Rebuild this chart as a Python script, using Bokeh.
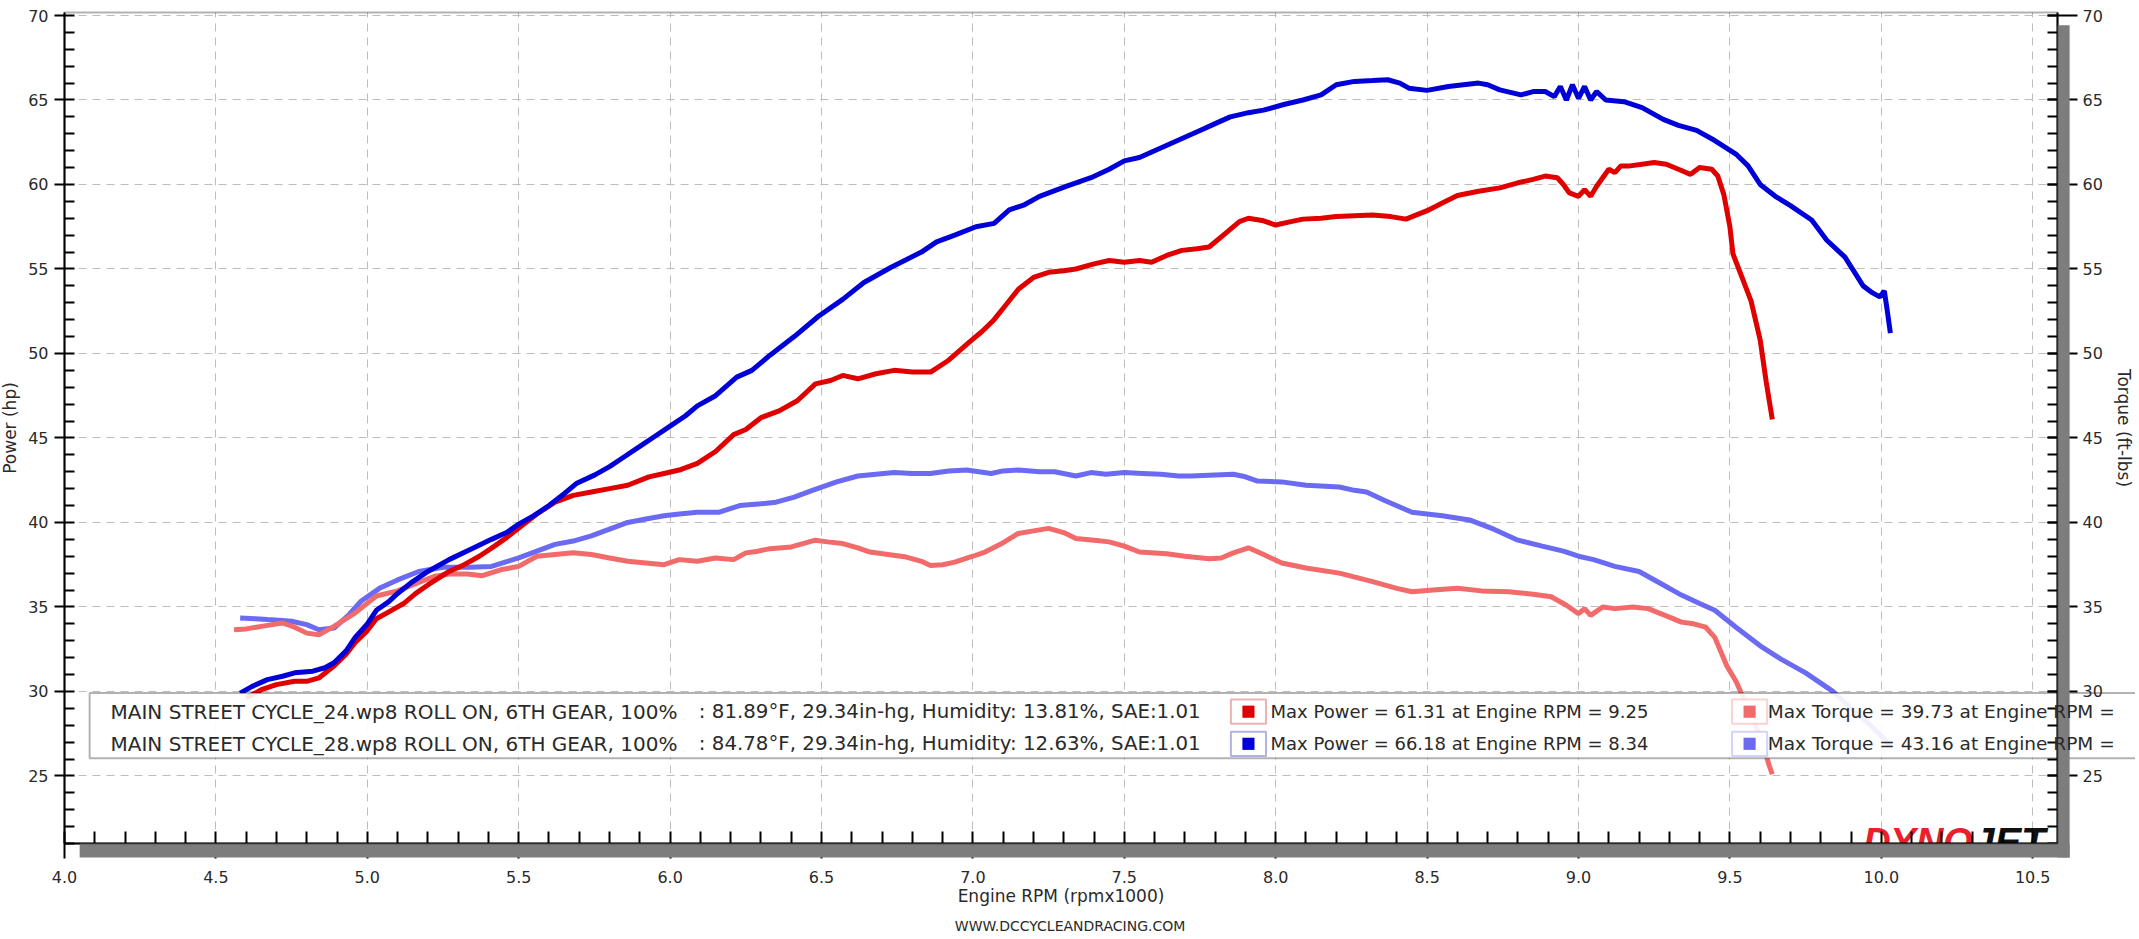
from bokeh.plotting import figure
from bokeh.models import (LinearAxis, SingleIntervalTicker, PrintfTickFormatter, Grid,
                          BoxAnnotation, Label, Range1d)
from bokeh.embed import file_html
from bokeh.resources import INLINE

# ---------------- data (read from the dyno sheet) ----------------
rpm_pw24 = [4.60, 4.65, 4.70, 4.76, 4.80, 4.84, 4.89, 4.93, 4.96, 5.00, 5.03, 5.08, 5.12, 5.16, 5.20,
            5.27, 5.32, 5.37, 5.42, 5.46, 5.51, 5.56, 5.62, 5.68, 5.74, 5.80, 5.86, 5.93, 5.98, 6.03,
            6.09, 6.15, 6.21, 6.25, 6.30, 6.36, 6.42, 6.48, 6.53, 6.57, 6.62, 6.68, 6.74, 6.80, 6.86,
            6.92, 6.99, 7.03, 7.07, 7.11, 7.15, 7.20, 7.25, 7.30, 7.34, 7.40, 7.45, 7.50, 7.55, 7.59,
            7.64, 7.69, 7.74, 7.78, 7.84, 7.88, 7.91, 7.96, 8.00, 8.05, 8.09, 8.15, 8.20, 8.26, 8.32,
            8.38, 8.43, 8.50, 8.55, 8.60, 8.67, 8.74, 8.80, 8.85, 8.89, 8.93, 8.95, 8.97, 9.00, 9.02,
            9.04, 9.06, 9.08, 9.10, 9.12, 9.14, 9.17, 9.21, 9.25, 9.29, 9.33, 9.37, 9.40, 9.44, 9.46,
            9.48, 9.50, 9.51, 9.54, 9.57, 9.60, 9.62, 9.64]
hp_24 = [29.6, 30.1, 30.4, 30.6, 30.6, 30.8, 31.5, 32.2, 32.9, 33.6, 34.3, 34.8, 35.2, 35.8, 36.3,
         37.1, 37.5, 38.0, 38.6, 39.1, 39.8, 40.5, 41.2, 41.6, 41.8, 42.0, 42.2, 42.7, 42.9, 43.1,
         43.5, 44.2, 45.2, 45.5, 46.2, 46.6, 47.2, 48.2, 48.4, 48.7, 48.5, 48.8, 49.0, 48.9, 48.9,
         49.6, 50.7, 51.3, 52.0, 52.9, 53.8, 54.5, 54.8, 54.9, 55.0, 55.3, 55.5, 55.4, 55.5, 55.4,
         55.8, 56.1, 56.2, 56.3, 57.2, 57.8, 58.0, 57.85, 57.6, 57.8, 57.95, 58.0, 58.1, 58.15, 58.2,
         58.1, 57.95, 58.45, 58.9, 59.35, 59.6, 59.8, 60.1, 60.3, 60.5, 60.4, 60.0, 59.5, 59.3, 59.7,
         59.3, 59.9, 60.4, 60.9, 60.7, 61.1, 61.1, 61.2, 61.3, 61.2, 60.9, 60.6, 61.0, 60.9, 60.5,
         59.4, 57.5, 55.9, 54.5, 53.1, 50.8, 48.3, 46.1]

rpm_pw28 = [4.58, 4.62, 4.67, 4.72, 4.76, 4.82, 4.86, 4.89, 4.93, 4.96, 5.00, 5.03, 5.07, 5.10, 5.15,
            5.20, 5.27, 5.34, 5.41, 5.46, 5.50, 5.55, 5.60, 5.65, 5.69, 5.75, 5.80, 5.85, 5.90, 5.95,
            6.00, 6.05, 6.09, 6.15, 6.22, 6.27, 6.33, 6.41, 6.49, 6.57, 6.64, 6.73, 6.83, 6.88, 6.94,
            7.01, 7.07, 7.12, 7.17, 7.22, 7.31, 7.39, 7.45, 7.50, 7.55, 7.60, 7.65, 7.70, 7.75, 7.80,
            7.85, 7.91, 7.96, 8.03, 8.09, 8.15, 8.20, 8.26, 8.32, 8.37, 8.41, 8.44, 8.50, 8.57, 8.62,
            8.67, 8.70, 8.74, 8.81, 8.85, 8.89, 8.92, 8.94, 8.96, 8.98, 9.00, 9.02, 9.04, 9.06, 9.09,
            9.15, 9.21, 9.28, 9.33, 9.39, 9.45, 9.52, 9.56, 9.60, 9.65, 9.70, 9.77, 9.82, 9.88, 9.94,
            9.97, 9.995, 10.01, 10.02, 10.03]
hp_28 = [29.9, 30.3, 30.7, 30.9, 31.1, 31.2, 31.4, 31.7, 32.4, 33.2, 34.0, 34.8, 35.3, 35.8, 36.5,
         37.1, 37.8, 38.4, 39.0, 39.4, 39.9, 40.4, 41.0, 41.7, 42.3, 42.8, 43.3, 43.9, 44.5, 45.1,
         45.7, 46.3, 46.9, 47.5, 48.6, 49.0, 49.9, 51.0, 52.2, 53.2, 54.2, 55.1, 56.0, 56.6, 57.0,
         57.5, 57.7, 58.5, 58.8, 59.3, 59.9, 60.4, 60.9, 61.4, 61.6, 62.0, 62.4, 62.8, 63.2, 63.6,
         64.0, 64.25, 64.4, 64.75, 65.0, 65.3, 65.9, 66.1, 66.15, 66.2, 66.0, 65.7, 65.57, 65.8, 65.9,
         66.0, 65.9, 65.6, 65.3, 65.5, 65.5, 65.2, 65.8, 65.0, 65.9, 65.1, 65.8, 65.0, 65.5, 65.0,
         64.9, 64.55, 63.85, 63.5, 63.2, 62.6, 61.8, 61.1, 60.0, 59.3, 58.75, 57.9, 56.7, 55.7, 54.0,
         53.6, 53.35, 53.7, 52.5, 51.2]

rpm_tq24 = [4.56, 4.60, 4.65, 4.72, 4.76, 4.80, 4.84, 4.89, 4.96, 5.03, 5.10, 5.17, 5.22, 5.27, 5.33,
            5.38, 5.44, 5.50, 5.56, 5.62, 5.68, 5.74, 5.80, 5.86, 5.92, 5.98, 6.03, 6.09, 6.15, 6.21,
            6.25, 6.29, 6.33, 6.40, 6.48, 6.52, 6.57, 6.62, 6.66, 6.72, 6.78, 6.83, 6.86, 6.90, 6.94,
            7.00, 7.04, 7.10, 7.15, 7.20, 7.25, 7.30, 7.34, 7.40, 7.45, 7.50, 7.55, 7.64, 7.70, 7.78,
            7.82, 7.86, 7.91, 7.96, 8.02, 8.10, 8.21, 8.32, 8.40, 8.45, 8.52, 8.60, 8.68, 8.77, 8.85,
            8.91, 8.96, 9.00, 9.02, 9.04, 9.08, 9.12, 9.18, 9.23, 9.30, 9.34, 9.38, 9.42, 9.45, 9.49,
            9.52, 9.54, 9.58, 9.61, 9.63, 9.64]
tq_24 = [33.65, 33.7, 33.85, 34.05, 33.8, 33.45, 33.35, 33.85, 34.65, 35.65, 35.95, 36.45, 36.8, 36.95, 36.95,
         36.85, 37.2, 37.4, 38.0, 38.1, 38.2, 38.1, 37.9, 37.7, 37.6, 37.5, 37.8, 37.7, 37.9, 37.8,
         38.2, 38.3, 38.45, 38.55, 38.95, 38.85, 38.75, 38.5, 38.25, 38.1, 37.95, 37.7, 37.45, 37.5, 37.65,
         38.0, 38.25, 38.8, 39.35, 39.5, 39.65, 39.4, 39.05, 38.95, 38.85, 38.6, 38.25, 38.15, 38.0, 37.85,
         37.9, 38.2, 38.5, 38.1, 37.6, 37.3, 37.0, 36.5, 36.1, 35.9, 36.0, 36.1, 35.95, 35.9, 35.75,
         35.6, 35.1, 34.6, 34.9, 34.5, 35.0, 34.9, 35.0, 34.9, 34.4, 34.1, 34.0, 33.8, 33.2, 31.5,
         30.6, 29.8, 28.2, 26.8, 25.6, 25.1]

rpm_tq28 = [4.58, 4.63, 4.67, 4.72, 4.75, 4.80, 4.84, 4.89, 4.94, 4.98, 5.04, 5.10, 5.17, 5.25, 5.34,
            5.41, 5.50, 5.56, 5.62, 5.68, 5.74, 5.80, 5.86, 5.92, 5.98, 6.03, 6.09, 6.16, 6.23, 6.30,
            6.35, 6.41, 6.47, 6.55, 6.62, 6.68, 6.74, 6.80, 6.86, 6.92, 6.98, 7.06, 7.10, 7.15, 7.22,
            7.27, 7.34, 7.39, 7.44, 7.50, 7.56, 7.62, 7.68, 7.72, 7.78, 7.86, 7.90, 7.94, 8.02, 8.10,
            8.21, 8.26, 8.30, 8.36, 8.45, 8.55, 8.64, 8.72, 8.80, 8.88, 8.95, 9.00, 9.05, 9.12, 9.20,
            9.27, 9.34, 9.40, 9.45, 9.52, 9.60, 9.67, 9.75, 9.84, 9.90, 9.97, 10.03]
tq_28 = [34.35, 34.3, 34.25, 34.2, 34.15, 33.95, 33.65, 33.75, 34.55, 35.35, 36.1, 36.6, 37.1, 37.35, 37.35,
         37.4, 37.9, 38.3, 38.7, 38.9, 39.2, 39.6, 40.0, 40.2, 40.4, 40.5, 40.6, 40.6, 41.0, 41.1,
         41.2, 41.5, 41.9, 42.4, 42.75, 42.85, 42.95, 42.9, 42.9, 43.05, 43.1, 42.9, 43.05, 43.1, 43.0,
         43.0, 42.75, 42.95, 42.85, 42.95, 42.9, 42.85, 42.75, 42.75, 42.8, 42.85, 42.7, 42.45, 42.4, 42.2,
         42.1, 41.9, 41.8, 41.3, 40.6, 40.4, 40.15, 39.6, 38.95, 38.6, 38.3, 38.0, 37.8, 37.4, 37.1,
         36.4, 35.7, 35.2, 34.8, 33.8, 32.7, 31.9, 31.1, 30.0, 29.0, 27.9, 26.8]

run_names = ["MAIN STREET CYCLE_24.wp8 ROLL ON, 6TH GEAR, 100%",
             "MAIN STREET CYCLE_28.wp8 ROLL ON, 6TH GEAR, 100%"]
run_conditions = [": 81.89\u00b0F, 29.34in-hg, Humidity: 13.81%, SAE:1.01",
                  ": 84.78\u00b0F, 29.34in-hg, Humidity: 12.63%, SAE:1.01"]
max_power = ["Max Power = 61.31 at Engine RPM = 9.25",
             "Max Power = 66.18 at Engine RPM = 8.34"]
max_torque = ["Max Torque = 39.73 at Engine RPM =",
              "Max Torque = 43.16 at Engine RPM ="]

# axis extents of the plot box (data units)
X0, X1 = 4.0, 10.582
Y0, Y1 = 21.0, 70.18

# ---------------- styling ----------------
FONT = "DejaVu Sans"
RED, BLUE = "#e00000", "#0000d8"
LRED, LBLUE = "#f26a6a", "#6a6af2"
TXT = "#2a2a2a"
SHADOW = "#7d7d7d"
LW = 5

p = figure(width=2135, height=935,
           x_range=Range1d(3.7886, 10.8395), y_range=Range1d(15.556, 70.888),
           x_axis_location=None, y_axis_location=None,
           output_backend="svg", toolbar_location=None,
           min_border=0, min_border_left=0, min_border_right=0,
           min_border_top=0, min_border_bottom=0)
p.background_fill_color = "white"
p.border_fill_color = "white"
p.outline_line_color = None
p.xgrid.visible = False
p.ygrid.visible = False

# grid confined to the plot box
xg = Grid(dimension=0, ticker=SingleIntervalTicker(interval=0.5), bounds=(X0, X1),
          cross_bounds=(Y0, Y1), grid_line_color="#bdbdbd", grid_line_dash="8 6", grid_line_width=1)
yg = Grid(dimension=1, ticker=SingleIntervalTicker(interval=5), bounds=(Y0, Y1),
          cross_bounds=(X0, X1), grid_line_color="#bdbdbd", grid_line_dash="8 6", grid_line_width=1)
p.add_layout(xg)
p.add_layout(yg)

# drop shadow of the plot box
p.add_layout(BoxAnnotation(left=X1, right=X1 + 0.04, bottom=Y0 - 0.83, top=Y1 - 0.75,
                           fill_color=SHADOW, fill_alpha=1, line_alpha=0, level="guide"))
p.add_layout(BoxAnnotation(left=X0 + 0.05, right=X1 + 0.04, bottom=Y0 - 0.83, top=Y0,
                           fill_color=SHADOW, fill_alpha=1, line_alpha=0, level="guide"))

# curves
p.line(rpm_tq28, tq_28, line_color=LBLUE, line_width=LW)
p.line(rpm_tq24, tq_24, line_color=LRED, line_width=LW)
p.line(rpm_pw24, hp_24, line_color=RED, line_width=LW)
p.line(rpm_pw28, hp_28, line_color=BLUE, line_width=LW)

# axes (fixed at the edges of the plot box)
xa = LinearAxis(ticker=SingleIntervalTicker(interval=0.5, num_minor_ticks=5),
                formatter=PrintfTickFormatter(format="%.1f"),
                axis_label="Engine RPM (rpmx1000)", fixed_location=Y0, bounds=(X0, X1))
ya = LinearAxis(ticker=SingleIntervalTicker(interval=5, num_minor_ticks=5),
                axis_label="Power (hp)", fixed_location=X0, bounds=(Y0, Y1))
ra = LinearAxis(ticker=SingleIntervalTicker(interval=5, num_minor_ticks=5),
                axis_label="Torque (ft-lbs)", fixed_location=X1, bounds=(Y0, Y1))

for ax in (xa, ya, ra):
    ax.axis_line_color = "black"
    ax.axis_line_width = 2
    ax.major_tick_line_color = "black"
    ax.minor_tick_line_color = "black"
    ax.major_tick_line_width = 2
    ax.minor_tick_line_width = 2
    ax.major_label_text_font = FONT
    ax.major_label_text_font_size = "16px"
    ax.major_label_text_color = TXT
    ax.axis_label_text_font = FONT
    ax.axis_label_text_font_size = "17px"
    ax.axis_label_text_font_style = "normal"
    ax.axis_label_text_color = TXT

xa.major_tick_in, xa.major_tick_out = 0, 15
xa.minor_tick_in, xa.minor_tick_out = 12, 0
xa.major_label_standoff = 12
xa.axis_label_standoff = 0

ya.major_tick_in, ya.major_tick_out = 0, 10
ya.minor_tick_in, ya.minor_tick_out = 10, 0
ya.major_label_standoff = 6
ya.axis_label_standoff = 5

ra.major_tick_in, ra.major_tick_out = 10, 20
ra.minor_tick_in, ra.minor_tick_out = 10, 0
ra.major_label_standoff = 5
ra.axis_label_standoff = 8

p.add_layout(xa, "below")
p.add_layout(ya, "left")
p.add_layout(ra, "right")

# border of the plot box
p.add_layout(BoxAnnotation(left=X0, right=X1, bottom=Y0, top=Y1, fill_alpha=0,
                           line_color="black", line_width=2, level="guide"))

# DYNOJET logo
p.add_layout(Label(x=9.94, y=21.1, text="DYNO", text_color="#e8202c", text_font="Liberation Sans",
                   text_font_size="38px", text_font_style="bold italic", text_baseline="alphabetic",
                   level="glyph"))
p.add_layout(Label(x=10.30, y=21.1, text="JET", text_color="#111111", text_font="Liberation Sans",
                   text_font_size="40px", text_font_style="bold italic", text_baseline="alphabetic",
                   level="glyph"))

# legend box
p.add_layout(BoxAnnotation(left=4.083, right=11.5, bottom=26.05, top=29.9,
                           fill_color="white", fill_alpha=0.9, line_color="black", line_width=2,
                           level="glyph"))
row_y = [28.8, 26.9]
pw_cols = [(RED, "#c00000"), (BLUE, "#0000a0")]
tq_cols = [(LRED, LRED), (LBLUE, LBLUE)]
for i in range(2):
    y = row_y[i]
    p.add_layout(Label(x=4.152, y=y, text=run_names[i], text_font=FONT, text_font_size="20px",
                       text_color=TXT, text_baseline="middle"))
    p.add_layout(Label(x=6.095, y=y, text=run_conditions[i], text_font=FONT, text_font_size="19.8px",
                       text_color=TXT, text_baseline="middle"))
    p.add_layout(Label(x=7.983, y=y, text=max_power[i], text_font=FONT, text_font_size="18px",
                       text_color=TXT, text_baseline="middle"))
    p.add_layout(Label(x=9.625, y=y, text=max_torque[i], text_font=FONT, text_font_size="18.5px",
                       text_color=TXT, text_baseline="middle"))
    for cx, (fc, lc) in ((7.91, pw_cols[i]), (9.565, tq_cols[i])):
        p.add_layout(BoxAnnotation(left=cx - 0.058, right=cx + 0.058, bottom=y - 0.72, top=y + 0.72,
                                   fill_color="white", fill_alpha=1, line_color=lc, line_width=2))
        p.add_layout(BoxAnnotation(left=cx - 0.02, right=cx + 0.02, bottom=y - 0.36, top=y + 0.36,
                                   fill_color=fc, fill_alpha=1, line_alpha=0))

# web address under the axis title
p.add_layout(Label(x=(X0 + X1) / 2 + 0.03, y=16.1, text="WWW.DCCYCLEANDRACING.COM", text_font=FONT,
                   text_font_size="14px", text_color=TXT, text_align="center", text_baseline="middle"))

open("out.html", "w").write(file_html(p, INLINE))
